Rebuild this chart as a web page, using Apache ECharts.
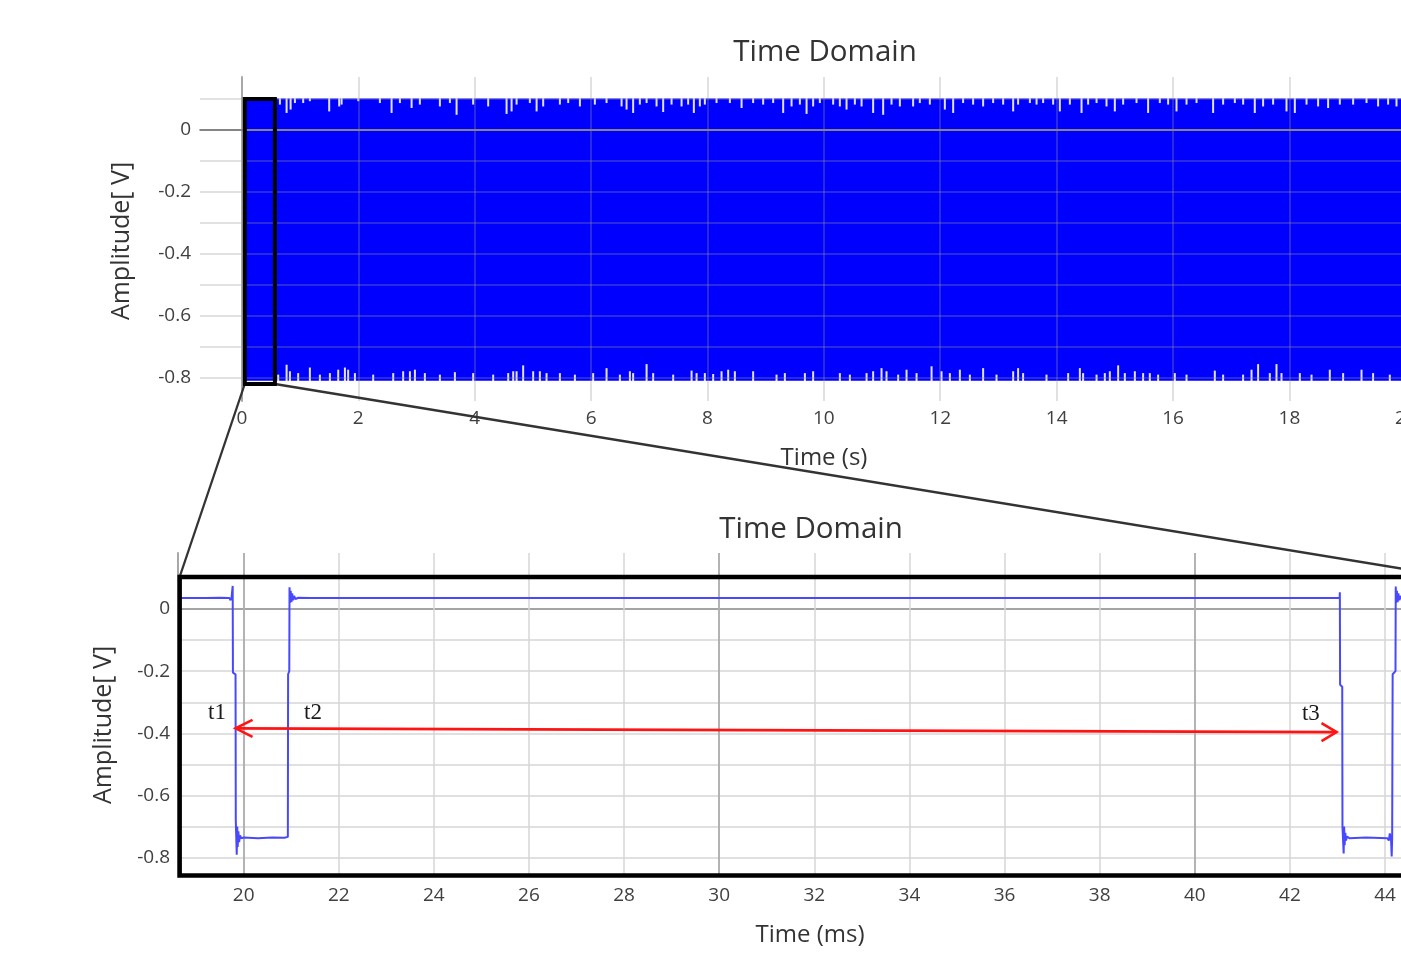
<!DOCTYPE html>
<html><head><meta charset="utf-8">
<script src="https://cdn.jsdelivr.net/npm/echarts@6/dist/echarts.min.js"></script>
<style>html,body{margin:0;padding:0;background:#fff;overflow:hidden}#c{width:1401px;height:955px}</style>
</head><body><div id="c"></div>
<script>
// ---------- data ----------
// top chart (seconds)
const topXTickLabels = [0, 2, 4, 6, 8, 10, 12, 14, 16, 18, 20];
const yTickLabels = [0, -0.2, -0.4, -0.6, -0.8];
const bandSpan = [0.07, 21.0];          // time extent of the dense signal (s)
const bandLevels = [0.102, -0.809];     // upper / lower envelope (V)
// white notches in the upper envelope [t (s), reached value (V)]
const topDips = [[0.653,0.082],[0.768,0.055],[0.837,0.066],[0.911,0.087],[1.053,0.087],[1.168,0.093],[1.500,0.060],[1.672,0.076],[1.713,0.082],[2.000,0.093],[2.371,0.087],[2.572,0.055],[2.715,0.087],[2.916,0.071],[3.058,0.082],[3.402,0.076],[3.574,0.087],[3.689,0.049],[3.974,0.082],[4.232,0.076],[4.548,0.052],[4.634,0.060],[4.720,0.082],[4.948,0.087],[5.064,0.060],[5.177,0.076],[5.464,0.082],[5.607,0.087],[5.808,0.076],[6.065,0.082],[6.266,0.087],[6.524,0.076],[6.610,0.066],[6.723,0.055],[6.838,0.082],[6.954,0.087],[7.125,0.076],[7.239,0.058],[7.383,0.082],[7.555,0.076],[7.668,0.082],[7.766,0.055],[7.869,0.076],[7.955,0.082],[8.156,0.087],[8.385,0.087],[8.586,0.071],[8.785,0.087],[8.957,0.082],[9.129,0.087],[9.301,0.055],[9.445,0.076],[9.588,0.082],[9.703,0.052],[9.816,0.076],[9.931,0.087],[10.160,0.082],[10.275,0.076],[10.390,0.066],[10.533,0.082],[10.648,0.076],[10.847,0.055],[11.019,0.049],[11.163,0.082],[11.306,0.076],[11.534,0.076],[11.649,0.087],[11.821,0.082],[12.079,0.066],[12.222,0.055],[12.393,0.087],[12.565,0.082],[12.737,0.076],[12.909,0.087],[13.081,0.082],[13.253,0.060],[13.338,0.082],[13.540,0.087],[13.655,0.082],[13.768,0.087],[13.940,0.082],[14.055,0.060],[14.227,0.082],[14.428,0.055],[14.541,0.082],[14.686,0.087],[14.857,0.076],[15.000,0.060],[15.143,0.082],[15.373,0.087],[15.572,0.055],[15.773,0.087],[15.916,0.082],[16.060,0.060],[16.232,0.082],[16.404,0.087],[16.689,0.055],[16.861,0.082],[17.062,0.087],[17.205,0.082],[17.405,0.055],[17.548,0.076],[17.720,0.082],[17.950,0.060],[18.093,0.055],[18.294,0.082],[18.493,0.076],[18.665,0.071],[18.866,0.082],[19.095,0.082],[19.325,0.087],[19.524,0.076],[19.696,0.082],[19.840,0.076]];
// white notches in the lower envelope [t (s), reached value (V)]
const bottomDips = [[0.624,-0.789],[0.768,-0.757],[0.825,-0.778],[0.967,-0.784],[1.168,-0.766],[1.340,-0.789],[1.512,-0.784],[1.655,-0.773],[1.770,-0.766],[1.826,-0.773],[1.942,-0.784],[2.256,-0.789],[2.600,-0.784],[2.771,-0.778],[2.887,-0.778],[2.973,-0.773],[3.144,-0.784],[3.402,-0.789],[3.660,-0.781],[3.974,-0.784],[4.318,-0.789],[4.576,-0.784],[4.662,-0.778],[4.720,-0.778],[4.833,-0.759],[5.005,-0.778],[5.120,-0.778],[5.235,-0.784],[5.464,-0.784],[5.722,-0.789],[6.036,-0.784],[6.266,-0.768],[6.495,-0.789],[6.667,-0.778],[6.723,-0.784],[6.954,-0.755],[7.067,-0.784],[7.411,-0.789],[7.727,-0.776],[7.813,-0.784],[7.955,-0.784],[8.098,-0.787],[8.242,-0.778],[8.356,-0.773],[8.471,-0.778],[8.785,-0.778],[9.187,-0.789],[9.330,-0.784],[9.674,-0.784],[9.816,-0.778],[10.275,-0.784],[10.447,-0.789],[10.734,-0.784],[10.847,-0.778],[10.991,-0.768],[11.077,-0.778],[11.277,-0.789],[11.421,-0.773],[11.593,-0.784],[11.851,-0.762],[12.022,-0.778],[12.165,-0.784],[12.337,-0.773],[12.509,-0.789],[12.737,-0.768],[12.967,-0.789],[13.253,-0.778],[13.338,-0.768],[13.424,-0.784],[13.826,-0.789],[14.198,-0.784],[14.399,-0.768],[14.455,-0.784],[14.686,-0.789],[14.828,-0.784],[14.914,-0.778],[15.057,-0.759],[15.172,-0.784],[15.344,-0.778],[15.486,-0.784],[15.601,-0.784],[15.744,-0.789],[16.031,-0.784],[16.232,-0.789],[16.718,-0.776],[16.861,-0.789],[17.204,-0.789],[17.349,-0.773],[17.462,-0.755],[17.663,-0.784],[17.778,-0.755],[17.864,-0.784],[18.179,-0.784],[18.380,-0.789],[18.694,-0.773],[18.923,-0.784],[19.239,-0.773],[19.438,-0.784],[19.725,-0.789]];

// bottom chart (milliseconds)
const zoomXTickLabels = [20, 22, 24, 26, 28, 30, 32, 34, 36, 38, 40, 42, 44];
const zoomSignal = [[18.62,0.035],[19.2,0.035],[19.5,0.036],[19.70,0.035],[19.725,0.028],[19.745,0.036],[19.768,0.036],[19.77,0.074],[19.775,-0.205],[19.83,-0.21],[19.835,-0.68],[19.855,-0.79],[19.865,-0.70],[19.875,-0.765],[19.89,-0.715],[19.905,-0.75],[19.925,-0.728],[19.95,-0.738],[20.0,-0.735],[20.3,-0.737],[20.6,-0.735],[20.86,-0.736],[20.93,-0.733],[20.935,-0.21],[20.96,-0.20],[20.965,0.07],[20.975,0.02],[20.99,0.058],[21.005,0.022],[21.02,0.05],[21.04,0.028],[21.06,0.042],[21.09,0.032],[21.15,0.036],[21.4,0.035],[21.63,0.035],[21.66,0.039],[21.69,0.035],[22.41,0.035],[22.44,0.039],[22.47,0.035],[25.0,0.035],[28.44,0.035],[28.47,0.040],[28.5,0.035],[31.03,0.035],[31.06,0.029],[31.09,0.035],[35,0.035],[40,0.035],[43.0,0.035],[43.045,0.035],[43.05,0.054],[43.055,-0.244],[43.10,-0.25],[43.105,-0.70],[43.13,-0.786],[43.14,-0.70],[43.15,-0.76],[43.165,-0.72],[43.18,-0.745],[43.2,-0.732],[43.25,-0.737],[43.6,-0.735],[44.05,-0.737],[44.08,-0.745],[44.1,-0.722],[44.125,-0.738],[44.14,-0.796],[44.15,-0.735],[44.16,-0.21],[44.22,-0.20],[44.225,0.072],[44.235,0.02],[44.25,0.058],[44.265,0.022],[44.28,0.05],[44.30,0.028],[44.32,0.042],[44.35,0.032],[44.42,0.036],[45.45,0.035]];
// red double arrow t1 -> t3 [tStart, vStart, tEnd, vEnd]
const arrowSpan = [[19.83, -0.384, 42.98, -0.396]];
const arrowLabels = [['t1', 19.44, -0.334], ['t2', 21.46, -0.334], ['t3', 42.44, -0.338]];
// zoom annotation: small box (s, V) and big box (ms, V)
const smallBox = [0.05, 0.567, 0.100, -0.819];
const bigBox = [18.655, 45.43, 0.103, -0.857];

// ---------- chart ----------
const FONT = 'Open Sans';
const chart = echarts.init(document.getElementById('c'));
const near = (v, list) => list.find(l => Math.abs(v - l) < 1e-6);
const yFmt = v => { const l = near(v, yTickLabels); return l === undefined ? '' : (l === 0 ? '0' : l.toFixed(1)); };
const xFmt = list => v => { const l = near(v, list); return l === undefined ? '' : String(l); };
const labelStyle = {color: '#404040', fontSize: 19, fontFamily: FONT};

function hiddenAxis(extra) {
  return Object.assign({type: 'value', axisLine: {show: false}, axisTick: {show: false}, axisLabel: {show: false}}, extra);
}
function dipRender(base) {
  return function (params, api) {
    const a = api.coord([api.value(0), base]);
    const b = api.coord([api.value(0), api.value(1)]);
    return {type: 'line', shape: {x1: a[0], y1: a[1], x2: b[0], y2: b[1]}, style: {stroke: 'rgba(245,245,255,0.92)', lineWidth: 2}};
  };
}

const option = {
  animation: false,
  backgroundColor: '#fff',
  grid: [
    {left: 200, top: 77, height: 324, width: 1264, outerBoundsMode: 'none', containLabel: false},
    {left: 178, top: 553, height: 324, width: 1276, outerBoundsMode: 'none', containLabel: false}
  ],
  xAxis: [
    {type: 'value', gridIndex: 0, min: -0.72, max: 21, minInterval: 2, maxInterval: 2, z: 5,
     axisLine: {show: true, lineStyle: {color: '#a8a8a8', width: 2}}, axisTick: {show: false},
     axisLabel: Object.assign({formatter: xFmt(topXTickLabels), margin: 8, showMinLabel: false, showMaxLabel: false}, labelStyle),
     splitLine: {show: true, showMinLine: false, showMaxLine: false, lineStyle: {color: 'rgba(150,150,150,0.38)', width: 1.5}}},
    {type: 'value', gridIndex: 1, min: 18.62, max: 45.45, minInterval: 2, maxInterval: 2,
     axisLine: {show: false}, axisTick: {show: false},
     axisLabel: Object.assign({formatter: xFmt(zoomXTickLabels), margin: 9, showMinLabel: false, showMaxLabel: false}, labelStyle),
     splitLine: {show: true, showMinLine: false, showMaxLine: false, lineStyle: {color: '#d6d6d6', width: 1.5}}},
    hiddenAxis({gridIndex: 1, position: 'bottom', min: 18.62, max: 45.45, minInterval: 10, maxInterval: 10,
     splitLine: {show: true, showMinLine: false, showMaxLine: false, lineStyle: {color: '#a4a4a4', width: 1.5}}})
  ],
  yAxis: [
    {type: 'value', gridIndex: 0, min: -0.874, max: 0.171, minInterval: 0.1, maxInterval: 0.1, z: 5,
     axisLine: {show: true, lineStyle: {color: '#a8a8a8', width: 2}}, axisTick: {show: false},
     axisLabel: Object.assign({formatter: yFmt, margin: 9, showMinLabel: false, showMaxLabel: false}, labelStyle),
     splitLine: {show: true, showMinLine: false, showMaxLine: false, lineStyle: {color: 'rgba(150,150,150,0.38)', width: 1.5}}},
    hiddenAxis({gridIndex: 0, position: 'left', min: -0.874, max: 0.171, minInterval: 1, maxInterval: 1, z: 6,
     splitLine: {show: true, showMinLine: false, showMaxLine: false, lineStyle: {color: 'rgba(120,120,120,0.75)', width: 1.8}}}),
    {type: 'value', gridIndex: 1, min: -0.862, max: 0.18, minInterval: 0.1, maxInterval: 0.1,
     axisLine: {show: true, lineStyle: {color: '#a8a8a8', width: 2}}, axisTick: {show: false},
     axisLabel: Object.assign({formatter: yFmt, margin: 8, showMinLabel: false, showMaxLabel: false}, labelStyle),
     splitLine: {show: true, showMinLine: false, showMaxLine: false, lineStyle: {color: '#d6d6d6', width: 1.5}}},
    hiddenAxis({gridIndex: 1, position: 'left', min: -0.862, max: 0.18, minInterval: 1, maxInterval: 1,
     splitLine: {show: true, showMinLine: false, showMaxLine: false, lineStyle: {color: '#a4a4a4', width: 1.8}}})
  ],
  series: [
    {type: 'custom', xAxisIndex: 0, yAxisIndex: 0, z: 2, encode: {x: [0, 1], y: [2, 3]},
     data: [[bandSpan[0], bandSpan[1], bandLevels[0], bandLevels[1]]],
     renderItem: function (params, api) {
       const p0 = api.coord([api.value(0), api.value(2)]);
       const p1 = api.coord([api.value(1), api.value(3)]);
       return {type: 'rect', shape: {x: p0[0], y: p0[1], width: p1[0] - p0[0], height: p1[1] - p0[1]}, style: {fill: '#0000ff'}};
     }},
    {type: 'custom', xAxisIndex: 0, yAxisIndex: 0, z: 3, encode: {x: 0, y: 1}, data: topDips, renderItem: dipRender(bandLevels[0] + 0.002)},
    {type: 'custom', xAxisIndex: 0, yAxisIndex: 0, z: 3, encode: {x: 0, y: 1}, data: bottomDips, renderItem: dipRender(bandLevels[1] - 0.002)},
    {type: 'line', xAxisIndex: 1, yAxisIndex: 2, data: zoomSignal, showSymbol: false, z: 3,
     lineStyle: {color: '#4848ff', width: 2}},
    {type: 'custom', xAxisIndex: 1, yAxisIndex: 2, z: 4, encode: {x: [0, 2], y: [1, 3]}, data: arrowSpan,
     renderItem: function (params, api) {
       const a = api.coord([api.value(0), api.value(1)]);
       const b = api.coord([api.value(2), api.value(3)]);
       const st = {stroke: '#ff1414', lineWidth: 2.6, fill: null};
       return {type: 'group', children: [
         {type: 'line', shape: {x1: a[0], y1: a[1], x2: b[0], y2: b[1]}, style: st},
         {type: 'polyline', shape: {points: [[a[0] + 17, a[1] - 8.5], a, [a[0] + 17, a[1] + 8.5]]}, style: st},
         {type: 'polyline', shape: {points: [[b[0] - 15, b[1] - 9], b, [b[0] - 15, b[1] + 9]]}, style: st}
       ]};
     }},
    {type: 'custom', xAxisIndex: 1, yAxisIndex: 2, z: 4, encode: {x: 1, y: 2}, data: arrowLabels,
     renderItem: function (params, api) {
       const p = api.coord([api.value(1), api.value(2)]);
       return {type: 'text', x: p[0], y: p[1], style: {text: arrowLabels[params.dataIndex][0], fill: '#1a1a1a',
         font: '23px "Liberation Serif", "DejaVu Serif", serif', align: 'center', verticalAlign: 'middle'}};
     }}
  ]
};
chart.setOption(option);

// annotation overlay (computed from data coordinates)
const pTop = p => chart.convertToPixel({xAxisIndex: 0, yAxisIndex: 0}, p);
const pBot = p => chart.convertToPixel({xAxisIndex: 1, yAxisIndex: 2}, p);
const s0 = pTop([smallBox[0], smallBox[2]]), s1 = pTop([smallBox[1], smallBox[3]]);
const b0 = pBot([bigBox[0], bigBox[2]]), b1 = pBot([bigBox[1], bigBox[3]]);
const txt = (text, x, y, size, rot) => ({type: 'text', x: x, y: y, rotation: rot || 0, z: 50,
  style: {text: text, fill: '#333', font: size + 'px "' + FONT + '"', align: 'center', verticalAlign: 'middle'}});
chart.setOption({graphic: [
  {type: 'line', z: 40, shape: {x1: s0[0], y1: s1[1], x2: b0[0], y2: b0[1]}, style: {stroke: '#333', lineWidth: 2.2}},
  {type: 'line', z: 40, shape: {x1: s1[0], y1: s1[1], x2: b1[0], y2: b0[1]}, style: {stroke: '#333', lineWidth: 2.4}},
  {type: 'rect', z: 41, shape: {x: s0[0], y: s0[1], width: s1[0] - s0[0], height: s1[1] - s0[1]}, style: {stroke: '#000', lineWidth: 4, fill: null}},
  {type: 'rect', z: 41, shape: {x: b0[0], y: b0[1], width: b1[0] - b0[0], height: b1[1] - b0[1]}, style: {stroke: '#000', lineWidth: 4.5, fill: null}},
  txt('Time Domain', 825, 53, 29.5),
  txt('Time (s)', 824, 458, 24),
  txt('Amplitude[ V]', 122, 241, 25, Math.PI / 2),
  txt('Time Domain', 811, 530, 29.5),
  txt('Time (ms)', 810, 935, 24),
  txt('Amplitude[ V]', 104, 725, 25, Math.PI / 2)
]});
</script></body></html>
